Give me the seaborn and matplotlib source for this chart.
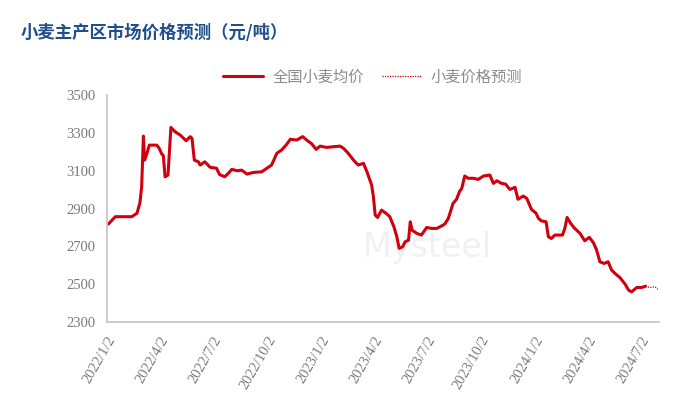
import pandas as pd
import matplotlib.pyplot as plt
import seaborn as sns

# 全国小麦均价 (元/吨)
avg_dates = [
    "2022-01-04", "2022-01-16", "2022-02-13", "2022-02-22", "2022-02-27", "2022-03-02",
    "2022-03-05", "2022-03-07", "2022-03-11", "2022-03-15", "2022-03-28", "2022-04-01",
    "2022-04-05", "2022-04-08", "2022-04-11", "2022-04-16", "2022-04-21", "2022-04-28",
    "2022-05-07", "2022-05-17", "2022-05-24", "2022-05-27", "2022-05-31", "2022-06-07",
    "2022-06-10", "2022-06-18", "2022-06-27", "2022-07-08", "2022-07-13", "2022-07-22",
    "2022-07-28", "2022-08-03", "2022-08-12", "2022-08-20", "2022-08-29", "2022-09-09",
    "2022-09-23", "2022-10-02", "2022-10-10", "2022-10-19", "2022-10-27", "2022-11-04",
    "2022-11-11", "2022-11-22", "2022-12-02", "2022-12-09", "2022-12-18", "2022-12-25",
    "2023-01-01", "2023-01-12", "2023-02-04", "2023-02-10", "2023-02-18", "2023-02-27",
    "2023-03-07", "2023-03-16", "2023-03-22", "2023-03-30", "2023-04-02", "2023-04-05",
    "2023-04-09", "2023-04-16", "2023-04-25", "2023-04-30", "2023-05-07", "2023-05-12",
    "2023-05-16", "2023-05-22", "2023-05-26", "2023-06-01", "2023-06-04", "2023-06-07",
    "2023-06-15", "2023-06-23", "2023-07-02", "2023-07-11", "2023-07-19", "2023-07-25",
    "2023-08-02", "2023-08-08", "2023-08-16", "2023-08-22", "2023-08-27", "2023-08-31",
    "2023-09-05", "2023-09-11", "2023-09-20", "2023-09-28", "2023-10-07", "2023-10-18",
    "2023-10-24", "2023-10-30", "2023-11-07", "2023-11-14", "2023-11-21", "2023-11-30",
    "2023-12-05", "2023-12-14", "2023-12-20", "2023-12-28", "2024-01-05", "2024-01-09",
    "2024-01-14", "2024-01-22", "2024-01-26", "2024-01-31", "2024-02-06", "2024-02-19",
    "2024-02-23", "2024-02-27", "2024-03-04", "2024-03-11", "2024-03-20", "2024-03-28",
    "2024-04-05", "2024-04-12", "2024-04-17", "2024-04-23", "2024-04-30", "2024-05-07",
    "2024-05-13", "2024-05-20", "2024-05-27", "2024-06-05", "2024-06-11", "2024-06-16",
    "2024-06-25", "2024-07-03", "2024-07-10",
]
avg_price = [
    2818, 2857, 2857, 2875, 2930, 3015,
    3283, 3156, 3190, 3235, 3235, 3218,
    3190, 3180, 3068, 3077, 3329, 3306,
    3288, 3258, 3280, 3271, 3156, 3147,
    3130, 3147, 3118, 3113, 3080, 3068,
    3086, 3107, 3100, 3103, 3082, 3091,
    3094, 3113, 3130, 3192, 3209, 3236,
    3266, 3262, 3280, 3262, 3241, 3213,
    3230, 3223, 3230, 3218, 3192, 3156,
    3130, 3139, 3094, 3024, 2962, 2866,
    2853, 2892, 2871, 2857, 2804, 2751,
    2690, 2698, 2724, 2733, 2830, 2786,
    2769, 2760, 2800, 2795, 2795, 2804,
    2818, 2848, 2927, 2949, 2989, 3007,
    3072, 3060, 3060, 3054, 3072, 3077,
    3033, 3047, 3033, 3029, 3001, 3012,
    2949, 2966, 2954, 2896, 2875, 2848,
    2835, 2830, 2751, 2742, 2760, 2760,
    2795, 2853, 2822, 2795, 2769, 2730,
    2748, 2719, 2684, 2619, 2610, 2619,
    2575, 2554, 2536, 2501, 2469, 2460,
    2483, 2483, 2490,
]

# 小麦价格预测
fc_dates = ["2024-07-10", "2024-07-17", "2024-07-26", "2024-07-31"]
fc_price = [2490, 2483, 2487, 2473]

tick_dates = ["2022-01-02", "2022-04-02", "2022-07-02", "2022-10-02", "2023-01-02",
              "2023-04-02", "2023-07-02", "2023-10-02", "2024-01-02", "2024-04-02",
              "2024-07-02"]
y_ticks = [2300, 2500, 2700, 2900, 3100, 3300, 3500]

avg = pd.DataFrame({"date": pd.to_datetime(avg_dates), "price": avg_price})
fc = pd.DataFrame({"date": pd.to_datetime(fc_dates), "price": fc_price})

sns.set_style("white")
plt.rcParams["font.family"] = ["Noto Sans CJK SC", "DejaVu Sans"]

fig = plt.figure(figsize=(6.78, 4.13), dpi=100)
ax = fig.add_axes([0.158, 0.220, 0.814, 0.550])

red = "#d0000f"
sns.lineplot(data=avg, x="date", y="price", ax=ax, color=red, linewidth=2.2,
             label="全国小麦均价")
sns.lineplot(data=fc, x="date", y="price", ax=ax, color=red, linewidth=0.9,
             linestyle=(0, (1, 1)), label="小麦价格预测")

ax.set_xlim(pd.Timestamp("2022-01-02"), pd.Timestamp("2024-08-02"))
ax.set_ylim(2300, 3500)
ax.set_yticks(y_ticks)
ticks = pd.to_datetime(tick_dates)
ax.set_xticks(ticks)
ax.set_xticklabels([f"{d.year}/{d.month}/{d.day}" for d in ticks])
ax.set_xlabel("")
ax.set_ylabel("")

grey = "#c4c4c4"
for side in ["top", "right"]:
    ax.spines[side].set_visible(False)
for side in ["left", "bottom"]:
    ax.spines[side].set_color(grey)
    ax.spines[side].set_linewidth(1.2)
ax.tick_params(axis="both", direction="out", length=5, width=1.2, color=grey,
               labelcolor="#7a7a7a", labelsize=10.5)
for lab in ax.get_xticklabels() + ax.get_yticklabels():
    lab.set_family("Liberation Serif")
plt.setp(ax.get_xticklabels(), rotation=60, ha="right", rotation_mode="anchor")

ax.legend(loc="center", bbox_to_anchor=(0.55, 0.814), bbox_transform=fig.transFigure,
          ncol=2, frameon=False, fontsize=11, labelcolor="#8c8c8c",
          handlelength=2.6, columnspacing=1.2, handletextpad=0.6)

# faint watermark
ax.text(0.58, 0.33, "Mysteel", transform=ax.transAxes, fontsize=24, color="#f1f1f1",
        ha="center", va="center", zorder=0, family="DejaVu Sans")

fig.text(0.03, 0.92, "小麦主产区市场价格预测（元/吨）", fontsize=12.5, fontweight="bold",
         color="#1f4e8c", ha="left", va="center")

plt.savefig("out.png", dpi=100)
